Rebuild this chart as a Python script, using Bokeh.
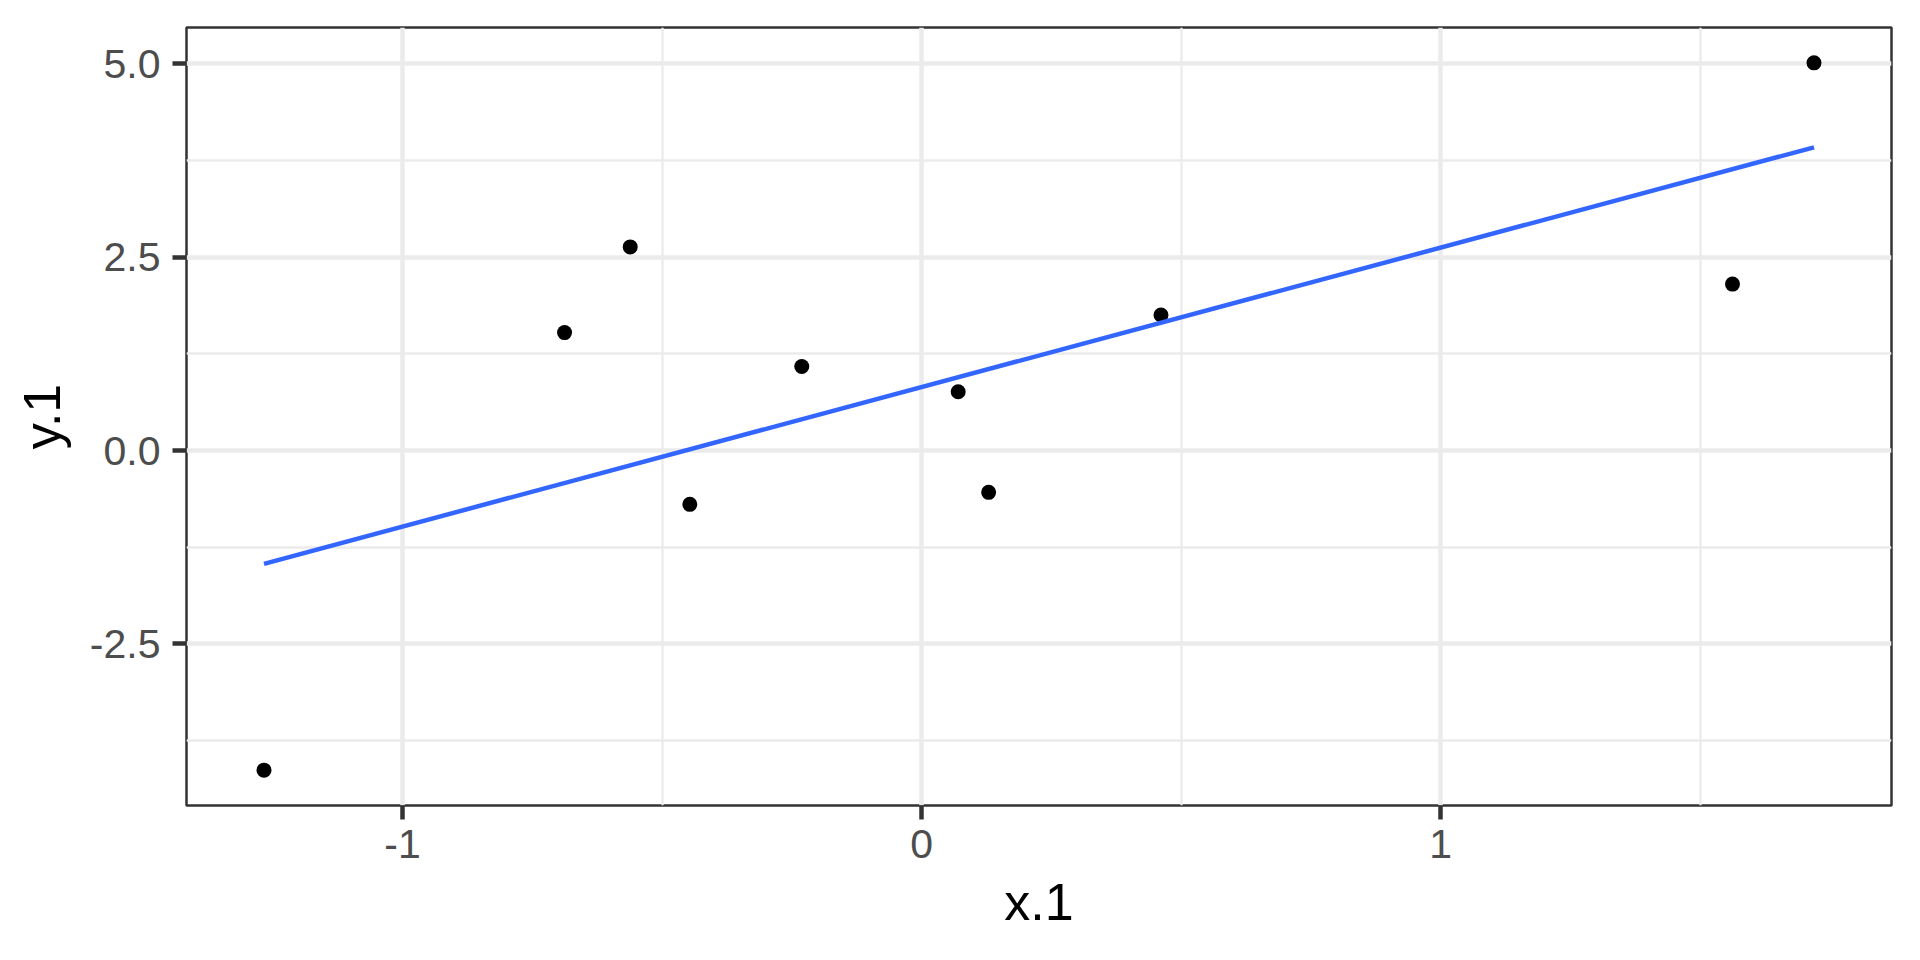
import numpy as np
from bokeh.plotting import figure
from bokeh.models import Range1d, FixedTicker
from bokeh.embed import file_html
from bokeh.resources import INLINE

# ---- data ----
x_values = [-1.267, -0.688, -0.5615, -0.4467, -0.231, 0.0703, 0.129, 0.461, 1.562, 1.719]
y_values = [-4.133, 1.525, 2.633, -0.696, 1.086, 0.760, -0.541, 1.753, 2.152, 5.013]

x_ticks = [-1, 0, 1]
x_tick_labels = ["-1", "0", "1"]
x_minor_ticks = [-1.5, -0.5, 0.5, 1.5]
y_ticks = [-2.5, 0.0, 2.5, 5.0]
y_tick_labels = ["-2.5", "0.0", "2.5", "5.0"]
y_minor_ticks = [-3.75, -1.25, 1.25, 3.75]

x_title = "x.1"
y_title = "y.1"

# ---- linear fit (geom_smooth method = lm) ----
slope, intercept = np.polyfit(x_values, y_values, 1)
fit_x = [min(x_values), max(x_values)]
fit_y = [slope * v + intercept for v in fit_x]

# ---- ranges with 5% expansion ----
xr = max(x_values) - min(x_values)
yr = max(y_values) - min(y_values)
x_range = Range1d(min(x_values) - 0.05 * xr, max(x_values) + 0.05 * xr)
y_range = Range1d(min(y_values) - 0.05 * yr, max(y_values) + 0.05 * yr)

FONT = "Liberation Sans"

p = figure(width=1904, height=944, x_range=x_range, y_range=y_range,
           output_backend="svg", toolbar_location=None,
           min_border_left=186, min_border_right=13,
           min_border_top=27, min_border_bottom=139)

p.background_fill_color = "white"
p.border_fill_color = "white"
p.outline_line_color = "#333333"
p.outline_line_width = 2.5

# axes
p.xaxis.ticker = FixedTicker(ticks=x_ticks, minor_ticks=x_minor_ticks)
p.yaxis.ticker = FixedTicker(ticks=y_ticks, minor_ticks=y_minor_ticks)
p.xaxis.major_label_overrides = {t: l for t, l in zip(x_ticks, x_tick_labels)}
p.yaxis.major_label_overrides = {t: l for t, l in zip(y_ticks, y_tick_labels)}

for ax in (p.xaxis, p.yaxis):
    ax.axis_line_color = None
    ax.major_tick_in = 0
    ax.major_tick_out = 14
    ax.major_tick_line_color = "#333333"
    ax.major_tick_line_width = 4.5
    ax.minor_tick_line_color = None
    ax.major_label_text_font = FONT
    ax.major_label_text_font_size = "41px"
    ax.major_label_text_color = "#4D4D4D"
    ax.axis_label_text_font = FONT
    ax.axis_label_text_font_size = "52px"
    ax.axis_label_text_font_style = "normal"
    ax.axis_label_text_color = "black"

p.xaxis.axis_label = x_title
p.yaxis.axis_label = y_title
p.xaxis.major_label_standoff = 10
p.yaxis.major_label_standoff = 12
p.xaxis.axis_label_standoff = 12
p.yaxis.axis_label_standoff = 16

# grid
for g in (p.xgrid, p.ygrid):
    g.grid_line_color = "#EBEBEB"
    g.grid_line_width = 4.5
    g.minor_grid_line_color = "#EBEBEB"
    g.minor_grid_line_width = 2.3

# glyphs
p.scatter(x_values, y_values, size=15, color="black", line_color=None)
p.line(fit_x, fit_y, line_color="#3366FF", line_width=4.5)

open("out.html", "w").write(file_html(p, INLINE))
